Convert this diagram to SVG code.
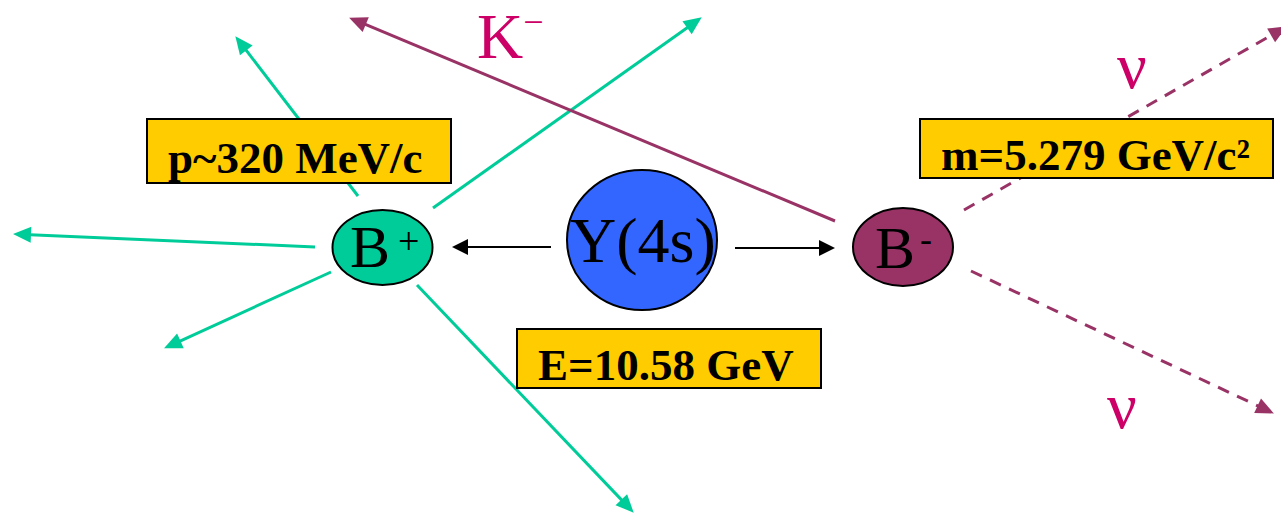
<svg xmlns="http://www.w3.org/2000/svg" width="1281" height="513" viewBox="0 0 1281 513">
<style>
.g{stroke:#00CC99;stroke-width:3;fill:none}
.p{stroke:#993366;stroke-width:3;fill:none}
.d{stroke:#993366;stroke-width:3;fill:none;stroke-dasharray:12 9}
.k{stroke:#000;stroke-width:2;fill:none}
.box{fill:#FFCC00;stroke:#000;stroke-width:2}
.bt{font-family:"Liberation Serif",serif;font-weight:bold;font-size:45px;fill:#000}
.nt{font-family:"Liberation Serif",serif;fill:#000}
.mg{font-family:"Liberation Serif",serif;fill:#CC0066}
</style>
<defs>
<marker id="ag" markerUnits="userSpaceOnUse" markerWidth="20" markerHeight="20" refX="1" refY="8" orient="auto" overflow="visible"><path d="M0,0 L18,8 L0,16 z" fill="#00CC99"/></marker>
<marker id="ap" markerUnits="userSpaceOnUse" markerWidth="20" markerHeight="20" refX="1" refY="8" orient="auto" overflow="visible"><path d="M0,0 L18,8 L0,16 z" fill="#993366"/></marker>
<marker id="ak" markerUnits="userSpaceOnUse" markerWidth="20" markerHeight="20" refX="1" refY="8" orient="auto" overflow="visible"><path d="M0,0 L16,8 L0,16 z" fill="#000"/></marker>
</defs>
<g id="connectors">
<line class="g" x1="358" y1="196" x2="245.7" y2="49.7" marker-end="url(#ag)"/>
<line class="g" x1="433" y1="208" x2="687.9" y2="27.2" marker-end="url(#ag)"/>
<line class="g" x1="315" y1="247" x2="30" y2="234.7" marker-end="url(#ag)"/>
<line class="g" x1="331" y1="272" x2="179.5" y2="341.3" marker-end="url(#ag)"/>
<line class="g" x1="417" y1="285" x2="622" y2="500.4" marker-end="url(#ag)"/>
<line class="p" x1="835" y1="221" x2="364.8" y2="24.2" marker-end="url(#ap)"/>
<line class="d" x1="964" y1="210" x2="1272" y2="34.9" marker-end="url(#ap)"/>
<line class="d" x1="971" y1="271" x2="1258.5" y2="406.2" marker-end="url(#ap)"/>
<line class="k" x1="551" y1="247" x2="467" y2="247" marker-end="url(#ak)"/>
<line class="k" x1="735" y1="248" x2="820" y2="248" marker-end="url(#ak)"/>
</g>
<g id="label-p">
<rect class="box" x="147" y="119" width="304" height="64"/>
<text class="bt" x="168" y="173">p~320 MeV/c</text>
</g>
<g id="label-m">
<rect class="box" x="920" y="119" width="353" height="59"/>
<text class="bt" x="941" y="170">m=5.279 GeV/c²</text>
</g>
<g id="label-E">
<rect class="box" x="517" y="329" width="304" height="59"/>
<text class="bt" x="538" y="380">E=10.58 GeV</text>
</g>
<g id="node-Bplus">
<ellipse cx="382.5" cy="247.5" rx="50" ry="37.5" fill="#00CC99" stroke="#000" stroke-width="2"/>
<text class="nt" x="350" y="267" style="font-size:60px">B</text>
<text class="nt" x="398" y="254" style="font-size:38px">+</text>
</g>
<g id="node-Y4s">
<ellipse cx="642" cy="240" rx="75" ry="70" fill="#3366FF" stroke="#000" stroke-width="2"/>
<text class="nt" x="570" y="262" style="font-size:64px">Y(4s)</text>
</g>
<g id="node-Bminus">
<ellipse cx="903" cy="247" rx="50" ry="39" fill="#993366" stroke="#000" stroke-width="2"/>
<text class="nt" x="875" y="268" style="font-size:60px">B</text>
<text class="nt" x="920" y="251" style="font-size:36px">-</text>
</g>
<g id="label-K">
<text class="mg" x="477" y="58" style="font-size:64px">K<tspan dy="-24" style="font-size:36px">−</tspan></text>
</g>
<g id="label-nu1"><text class="mg" x="1117" y="88" style="font-size:66px">ν</text></g>
<g id="label-nu2"><text class="mg" x="1107" y="428" style="font-size:66px">ν</text></g>
</svg>
